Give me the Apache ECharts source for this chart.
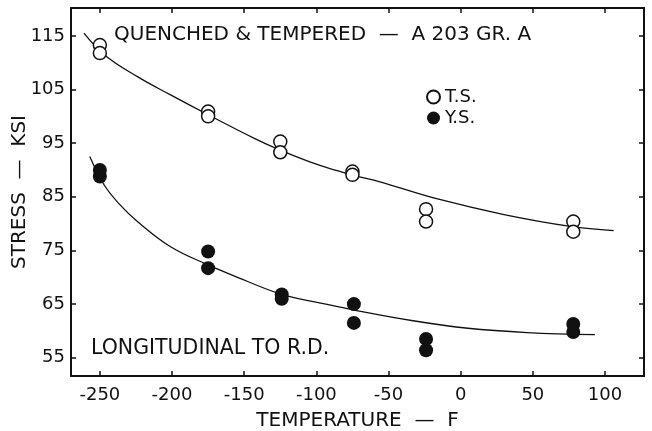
<!DOCTYPE html>
<html>
<head>
<meta charset="utf-8">
<script src="https://cdn.jsdelivr.net/npm/echarts@6/dist/echarts.min.js"></script>
<style>
  html, body { margin: 0; padding: 0; background: #fff; }
  #chart { width: 652px; height: 431px; }
</style>
</head>
<body>
<div id="chart"></div>
<script>
// Tensile strength (T.S.) test points: [temperature F, stress ksi]
const tsPoints = [
  [-250, 113.3], [-250, 111.8],
  [-175, 100.9], [-175, 100.0],
  [-125, 95.3], [-125, 93.3],
  [-75, 89.7], [-75, 89.1],
  [-24, 82.7], [-24, 80.4],
  [78, 80.4], [78, 78.5]
];
// Yield strength (Y.S.) test points
const ysPoints = [
  [-250, 90.0], [-250, 88.8],
  [-175, 74.8], [-175, 71.7],
  [-124, 66.8], [-124, 66.0],
  [-74, 65.0], [-74, 61.5],
  [-24, 58.5], [-24, 56.4],
  [78, 61.3], [78, 59.8]
];
// Hand-fitted trend curves
const tsCurve = [
  [-261, 115.5], [-247, 111.5], [-224, 107.4], [-201, 104.0], [-175, 100.3],
  [-143, 95.9], [-125, 93.7], [-97, 90.8], [-74, 89.0], [-56, 87.8],
  [-16, 84.6], [30, 81.7], [76, 79.5], [106, 78.7]
];
const ysCurve = [
  [-257, 92.5], [-247, 87.2], [-236, 83.5], [-224, 80.4], [-201, 75.7],
  [-175, 72.3], [-160, 70.6], [-124, 66.8], [-97, 65.2], [-74, 63.9],
  [-33, 61.9], [5, 60.5], [46, 59.7], [93, 59.3]
];
// Tick values
const xTicks = [-250, -200, -150, -100, -50, 0, 50, 100];
const yTicks = [55, 65, 75, 85, 95, 105, 115];

const FONT = 'DejaVu Sans';
const INK = '#111';

const frameAxis = {
  axisLine: { show: true, onZero: false, lineStyle: { color: INK, width: 2 } },
  splitLine: { show: false }
};
const tickStyle = { color: INK, width: 1.5 };

const chart = echarts.init(document.getElementById('chart'), null, { renderer: 'canvas' });

chart.setOption({
  animation: false,
  backgroundColor: '#fff',
  textStyle: { fontFamily: FONT, color: INK },
  grid: { left: 71, top: 8, width: 573, height: 368, outerBoundsMode: 'none', containLabel: false },
  xAxis: [
    Object.assign({}, frameAxis, {
      type: 'value', position: 'bottom', min: -270, max: 127,
      name: 'TEMPERATURE  —  F', nameLocation: 'middle', nameGap: 35,
      nameTextStyle: { fontFamily: FONT, fontSize: 20, color: INK },
      axisTick: { show: true, inside: true, length: 5, customValues: xTicks, lineStyle: tickStyle },
      axisLabel: { show: true, customValues: xTicks, fontFamily: FONT, fontSize: 18, color: INK, margin: 10 }
    }),
    Object.assign({}, frameAxis, {
      type: 'value', position: 'top', min: -270, max: 127,
      axisTick: { show: true, inside: true, length: 5, customValues: xTicks, lineStyle: tickStyle },
      axisLabel: { show: false }
    })
  ],
  yAxis: [
    Object.assign({}, frameAxis, {
      type: 'value', position: 'left', min: 51.6, max: 120.2,
      name: 'STRESS  —  KSI', nameLocation: 'middle', nameGap: 41, nameRotate: 90,
      nameMoveOverlap: false,
      nameTextStyle: { fontFamily: FONT, fontSize: 20, color: INK },
      axisTick: { show: true, inside: true, length: 5, customValues: yTicks, lineStyle: tickStyle },
      axisLabel: { show: true, customValues: yTicks, fontFamily: FONT, fontSize: 18, color: INK, margin: 6 }
    }),
    Object.assign({}, frameAxis, {
      type: 'value', position: 'right', min: 51.6, max: 120.2,
      axisTick: { show: true, inside: true, length: 5, customValues: yTicks, lineStyle: tickStyle },
      axisLabel: { show: false }
    })
  ],
  legend: {
    data: ['T.S.', 'Y.S.'],
    orient: 'vertical',
    left: 426, top: 88,
    padding: 0,
    itemWidth: 13, itemHeight: 13, itemGap: 3,
    textStyle: { fontFamily: FONT, fontSize: 18, color: INK }
  },
  series: [
    {
      name: 'T.S. curve', type: 'line', data: tsCurve, smooth: 0.4,
      showSymbol: false, silent: true,
      lineStyle: { color: INK, width: 1.3 }, z: 2
    },
    {
      name: 'Y.S. curve', type: 'line', data: ysCurve, smooth: 0.4,
      showSymbol: false, silent: true,
      lineStyle: { color: INK, width: 1.3 }, z: 2
    },
    {
      name: 'T.S.', type: 'scatter', data: tsPoints, symbol: 'circle', symbolSize: 13,
      itemStyle: { color: '#fff', borderColor: INK, borderWidth: 1.5, opacity: 1 }, z: 3
    },
    {
      name: 'Y.S.', type: 'scatter', data: ysPoints, symbol: 'circle', symbolSize: 14,
      itemStyle: { color: INK, opacity: 1 }, z: 3
    }
  ],
  graphic: [
    {
      type: 'text', x: 114, y: 35, silent: true,
      style: { text: 'QUENCHED & TEMPERED  —  A 203 GR. A', fontFamily: FONT, fontSize: 20, fill: INK, verticalAlign: 'middle' }
    },
    {
      type: 'text', x: 91, y: 349, silent: true,
      style: { text: 'LONGITUDINAL TO R.D.', fontFamily: FONT, fontSize: 20.5, fill: INK, verticalAlign: 'middle' }
    }
  ]
});
</script>
</body>
</html>
